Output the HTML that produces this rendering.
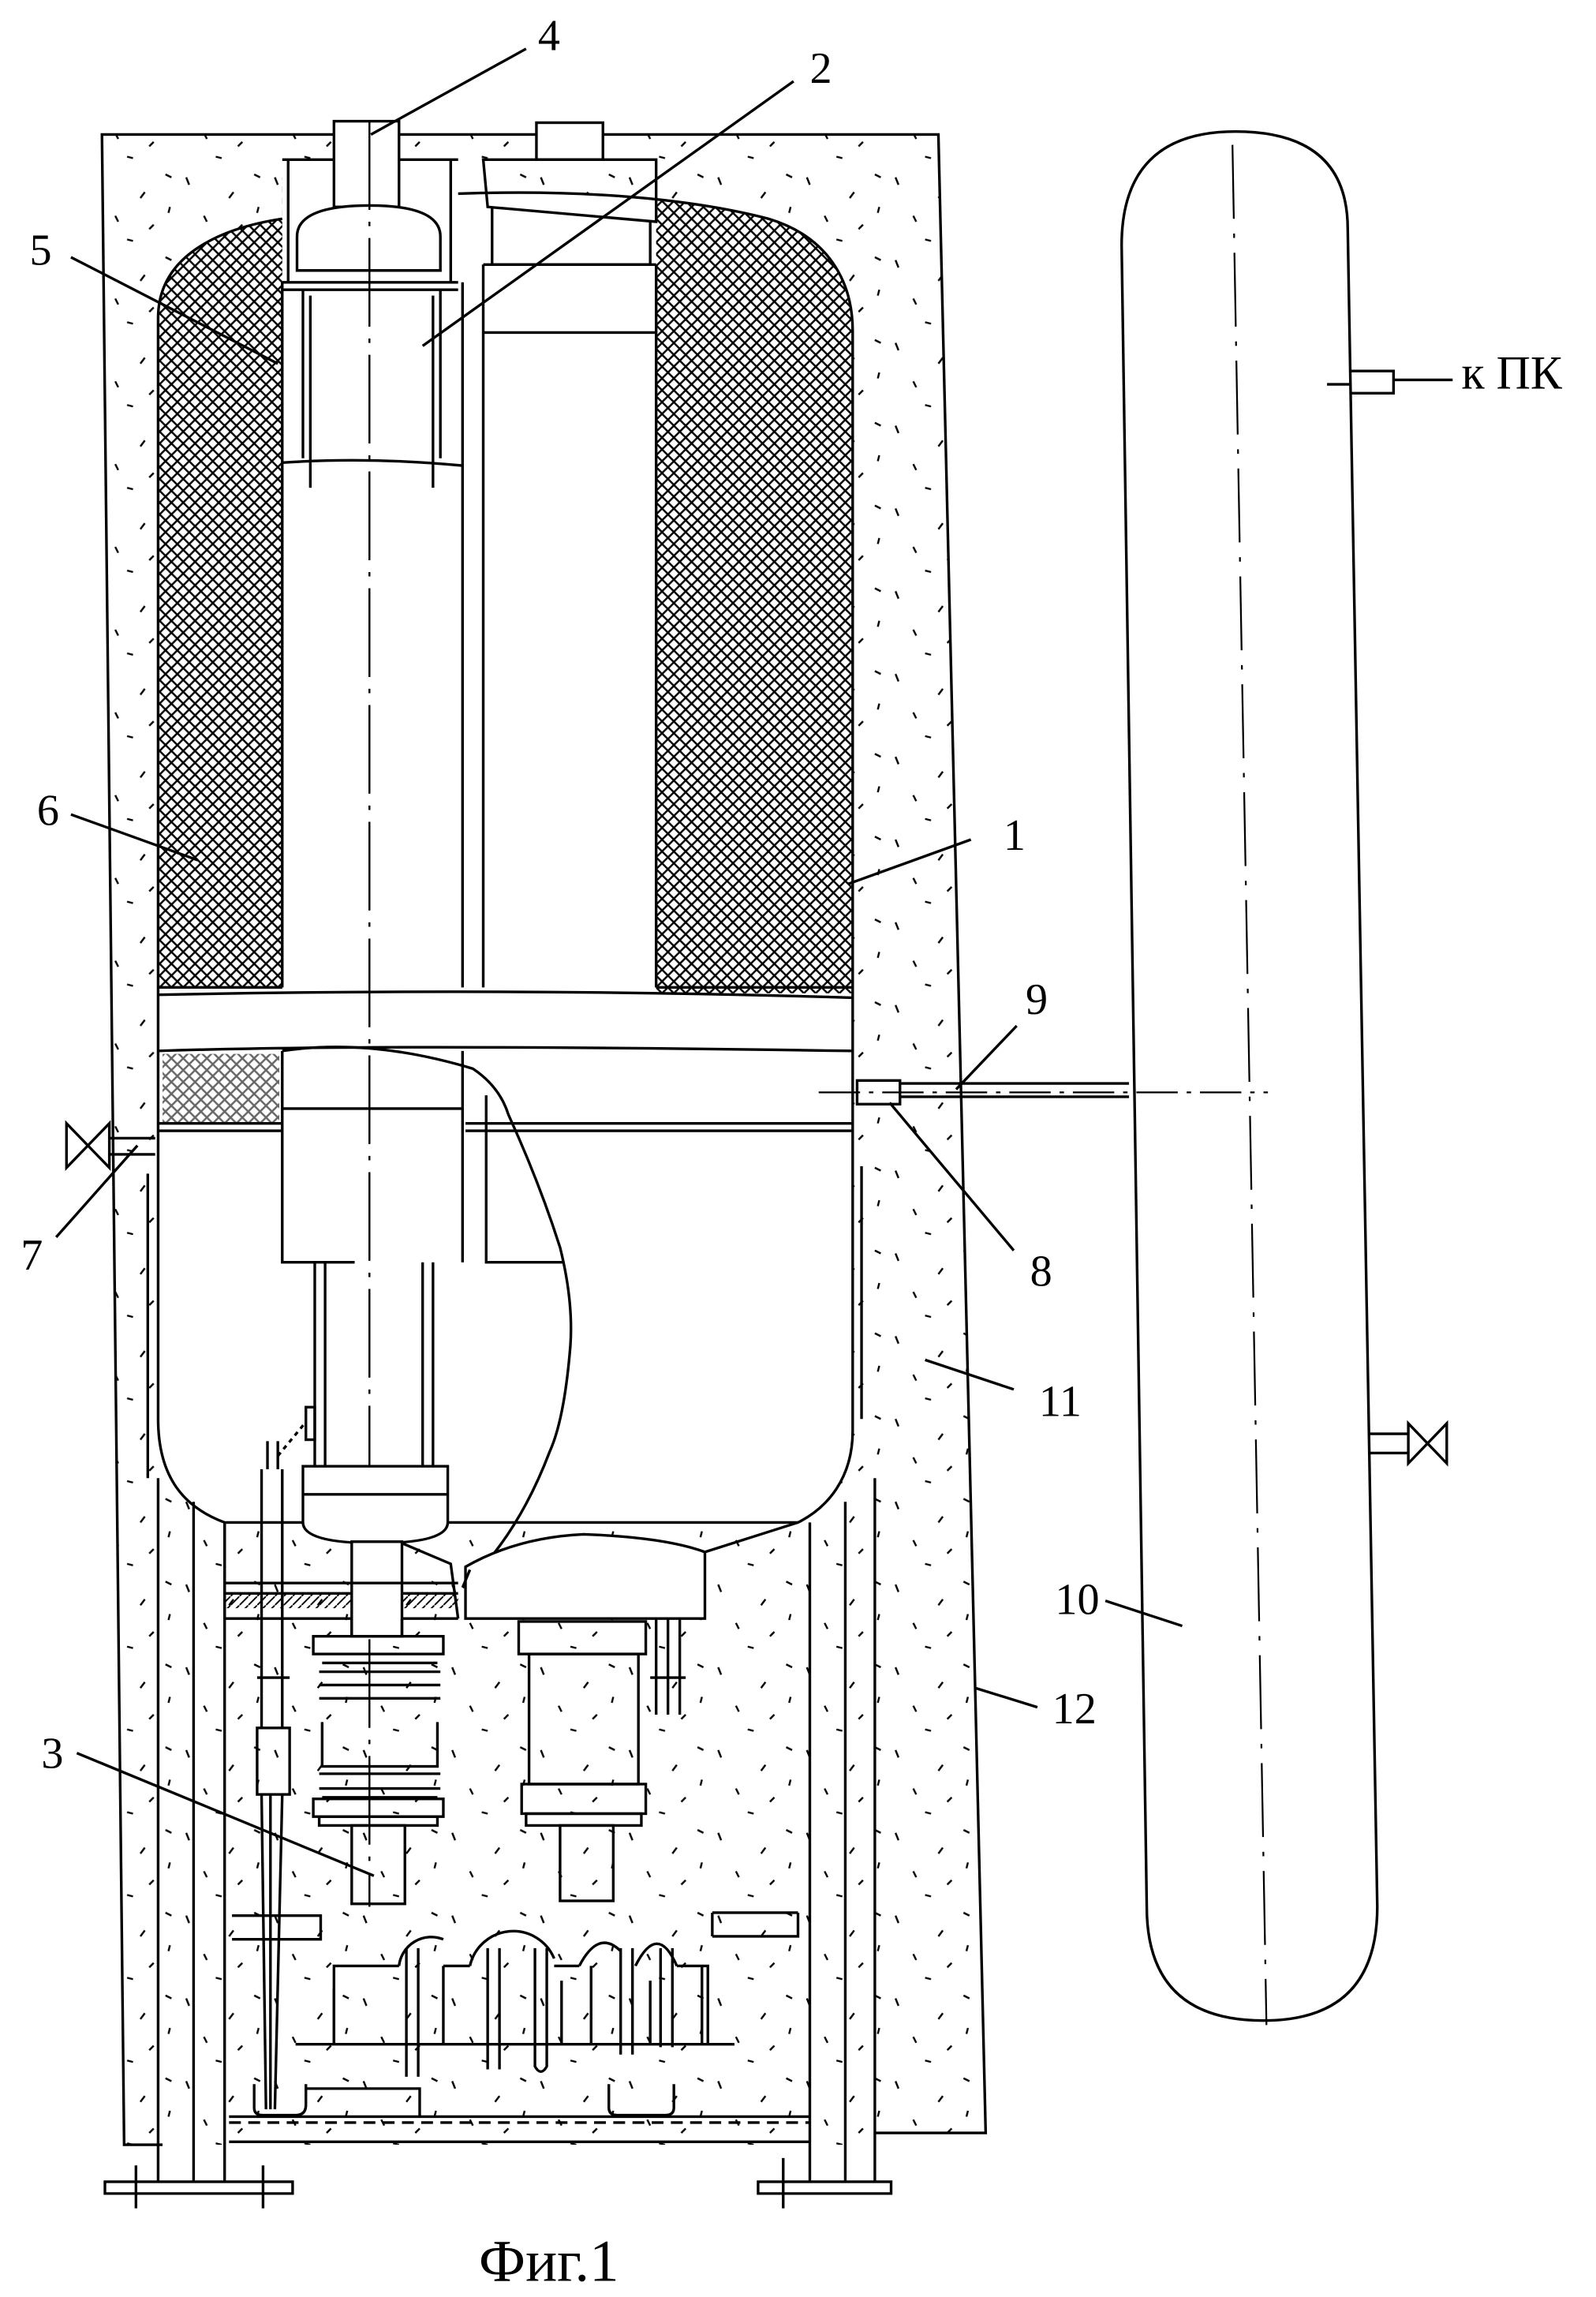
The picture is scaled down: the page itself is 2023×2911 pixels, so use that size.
<!DOCTYPE html>
<html><head><meta charset="utf-8"><style>html,body{margin:0;padding:0;background:#fff}svg{display:block}</style></head>
<body>
<svg width="2023" height="2911" viewBox="0 0 1080 1554" preserveAspectRatio="none" xmlns="http://www.w3.org/2000/svg">
<defs>
<pattern id="hatch" width="8" height="8" patternUnits="userSpaceOnUse">
<path d="M0 0L8 8M8 0L0 8" stroke="#000" stroke-width="1.3"/>
</pattern>
<pattern id="hatch2" width="6" height="6" patternUnits="userSpaceOnUse">
<path d="M0 6L6 0" stroke="#000" stroke-width="1"/>
</pattern>
<pattern id="speck" width="60" height="56" patternUnits="userSpaceOnUse">
<path d="M6 8l2 5M38 18l-3 4M52 6l4 2M18 34l2 4M44 40l-3 3M26 50l4 1M55 28l-1 4" stroke="#000" stroke-width="1.3" fill="none"/>
</pattern>
<clipPath id="ves"><path d="M107 960V215C107 175 145 155 191 148L191 108L310 108L310 131C400 128 470 135 520 148C560 160 577 190 577 224V968C577 1000 560 1020 540 1030H152C125 1020 107 1000 107 960Z"/></clipPath>
</defs>
<path d="M69 91H635L667 1443H592V1451H84Z" fill="url(#speck)"/>
<path d="M107 960V215C107 175 145 155 191 148L191 108L310 108L310 131C400 128 470 135 520 148C560 160 577 190 577 224V968C577 1000 560 1020 540 1030H152C125 1020 107 1000 107 960Z" fill="#fff"/>
<g clip-path="url(#ves)">
<rect x="103" y="120" width="88" height="548" fill="url(#hatch)"/>
<rect x="444" y="120" width="135" height="552" fill="url(#hatch)"/>
</g>
<rect x="110" y="713" width="79" height="47" fill="url(#hatch)" opacity="0.6"/>
<g fill="none" stroke="#000" stroke-width="1.8">
<path d="M195 91H69L84 1451H110M226 91H191M270 91H363M408 91H635L667 1443H592"/>
<path d="M107 960V215C107 175 145 155 191 148M310 131C400 128 470 135 520 148C560 160 577 190 577 224V968C577 1000 560 1020 540 1030H152C125 1020 107 1000 107 960"/>
<path d="M100 794V1000M583 789V960"/>
<path d="M107 668H191M444 668H577M107 673Q350 668 577 675M107 711Q250 706 577 711M107 760H191M315 760H577M107 765H191M315 765H577"/>
<rect x="226" y="82" width="44" height="58" fill="#fff"/>
<path d="M191 108H226M270 108H310M195 108V191M305 108V191M191 191H310"/>
<path d="M201 183V160Q201 139 250 139Q298 139 298 160V183Z" fill="#fff"/>
<path d="M201 183H298M191 196H310"/>
<rect x="363" y="83" width="45" height="25" fill="#fff"/>
<path d="M327 108H444V150L330 140ZM333 140V179H440V150"/>
<path d="M191 191V668M313 191V668M327 179V668M444 179V668M327 179H444M327 225H444"/>
<path d="M205 196V310M298 196V310M210 200V330M293 200V330M191 313Q250 309 313 315"/>
<path d="M250 82V1290" stroke-width="1.3" stroke-dasharray="60 8 3 8"/>
<path d="M191 711V854H240M313 711V854M329 741V854H382M191 750H313"/>
<path d="M191 711Q250 702 320 723Q338 735 344 754Q365 800 379 844Q388 880 386 910Q382 960 372 982Q350 1040 313 1074"/>
<path d="M213 854V992M220 854V992M286 854V992M293 854V992"/>
<rect x="207" y="952" width="6" height="22"/>
<path d="M205 992H303V1030Q303 1044 254 1044Q205 1044 205 1030Z" fill="#fff"/>
<path d="M205 1011H303"/>
<rect x="238" y="1043" width="34" height="64" fill="#fff"/>
<path d="M272 1044L305 1058L310 1095"/>
<path d="M152 1071H310M152 1078H238M272 1078H310M152 1095H238M272 1095H310M152 1071V1095M152 1030V1071"/>
<rect x="152" y="1078" width="86" height="10" fill="url(#hatch2)" stroke="none"/>
<rect x="272" y="1078" width="38" height="10" fill="url(#hatch2)" stroke="none"/>
<path d="M315 1095V1060Q350 1040 395 1038Q450 1040 477 1050V1095Z" fill="#fff"/>
<path d="M477 1050L540 1030M313 1074L318 1062"/>
<path d="M238 1095V1107M272 1095V1107"/>
<rect x="212" y="1107" width="88" height="12"/>
<path d="M218 1125H296M216 1131H298M216 1140H298M216 1149H298M218 1165V1195H296V1165M216 1200H298M216 1210H298M218 1216H296"/>
<rect x="212" y="1217" width="88" height="12"/>
<rect x="216" y="1229" width="80" height="6"/>
<rect x="238" y="1235" width="36" height="53"/>
<rect x="351" y="1097" width="86" height="22"/>
<rect x="358" y="1119" width="74" height="88"/>
<rect x="353" y="1207" width="84" height="20"/>
<rect x="356" y="1227" width="78" height="8"/>
<rect x="379" y="1235" width="36" height="51"/>
<path d="M444 1095V1160M452 1095V1160M460 1095V1160M440 1135H464"/>
<path d="M181 975V994M188 975V994M177 994V1169M191 994V1169M174 1135H196"/>
<rect x="174" y="1169" width="22" height="45"/>
<path d="M177 1214L180 1427M191 1214L186 1427M183 1214V1427M172 1410V1426Q172 1431 178 1431H200Q207 1431 207 1424V1410"/>
<path d="M188 985L207 962" stroke-dasharray="3 3"/>
<path d="M157 1296H217V1312H157M482 1294H540M482 1310H540V1294M482 1294V1310"/>
<path d="M226 1383V1330H270M300 1330H318M375 1330H392M458 1330H479V1383"/>
<path d="M200 1383H497M226 1345V1383M300 1330V1383M380 1340V1383M400 1330V1383M440 1340V1383M475 1330V1383"/>
<path d="M270 1330A22 22 0 0 1 300 1312M318 1330A30 30 0 0 1 375 1325M392 1330Q405 1305 420 1320M430 1330Q445 1300 458 1330"/>
<path d="M275 1318V1405M283 1318V1405M330 1318V1400M338 1318V1400M362 1318V1398Q366 1405 370 1398V1318M420 1318V1390M428 1318V1390M447 1318V1385M455 1318V1385"/>
<path d="M207 1413H284V1432M412 1410V1426Q412 1431 418 1431H450Q456 1431 456 1426V1410"/>
<path d="M155 1432H548M155 1449H548"/>
<path d="M155 1436H548" stroke-dasharray="8 5"/>
<path d="M107 1000V1476M131 1016V1476M152 1030V1476M548 1030V1476M572 1016V1476M592 1000V1476"/>
<path d="M71 1476H198V1484H71ZM513 1476H603V1484H513ZM92 1465V1494M178 1465V1494M530 1460V1494"/>
<rect x="580" y="731" width="29" height="16" fill="#fff"/>
<path d="M609 733H764M609 742H764"/>
<path d="M554 739H858" stroke-width="1.2" stroke-dasharray="28 6 3 6"/>
<path d="M74 770H105M74 781H105"/>
<path d="M45 760L74 790V760L45 790Z"/>
<path d="M759 166Q759 89 836 89Q912 89 912 155L932 1290Q932 1367 855 1367Q776 1367 776 1290Z"/>
<path d="M834 98L857 1370" stroke-width="1.2" stroke-dasharray="50 10 3 10"/>
<path d="M914 251H943V266H914M898 260H914M943 257H983"/>
<path d="M927 970H953M927 983H953"/>
<path d="M953 963L979 990V963L953 990Z"/>
<path d="M356 33L251 91M537 55L286 234M48 174L188 246M48 551L134 582M38 837L93 775M52 1186L253 1269M657 568L574 598M688 694L647 737M686 846L602 746M686 940L626 920M748 1083L800 1100M702 1155L660 1142"/>
</g>
<g font-family="'Liberation Serif', serif" font-size="30" fill="#000">
<text x="364" y="34">4</text><text x="548" y="56">2</text><text x="20" y="179">5</text>
<text x="25" y="558">6</text><text x="679" y="575">1</text><text x="694" y="686">9</text>
<text x="14" y="859">7</text><text x="697" y="870">8</text><text x="703" y="958">11</text>
<text x="714" y="1092">10</text><text x="712" y="1166">12</text><text x="28" y="1196">3</text>
<text x="989" y="263" font-size="32">к ПК</text>
<text x="324" y="1543" font-size="40">Фиг.1</text>
</g>
</svg>
</body></html>
